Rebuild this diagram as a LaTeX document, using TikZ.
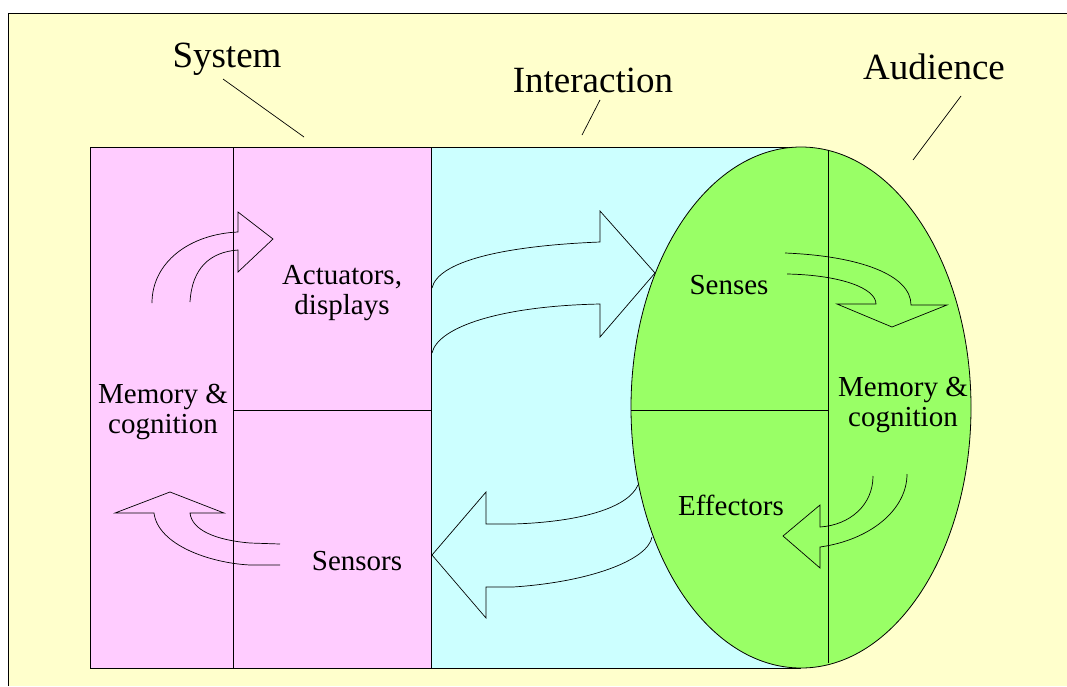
\documentclass[tikz,border=0pt]{standalone}
\usepackage{fontspec}
\setmainfont{Liberation Serif}
\usepackage{tikz}
\definecolor{paper}{HTML}{FFFFCC}
\definecolor{systempink}{HTML}{FFCCFF}
\definecolor{interactioncyan}{HTML}{CCFFFF}
\definecolor{audiencegreen}{HTML}{99FF66}
\tikzset{outline/.style={
    draw=black, line width=0.8pt
  },
  block arrow/.style={
    draw=black, line width=0.7pt, line join=miter
  },
  leader/.style={draw=black, line width=0.7pt},
  big title/.style={
    font=\fontsize{37}{40}\selectfont, anchor=base, inner sep=0pt
  },
  part text/.style={
    font=\fontsize{29}{30}\selectfont, align=center, inner sep=0pt
  }
}

\begin{document}
\begin{tikzpicture}[x=1pt,y=-1pt]
      \useasboundingbox (0,0) rectangle (1067,686);
      \fill[white] (0,0) rectangle (1067,686);
      \fill[paper] (8,13) rectangle (1067,686);
      \draw[outline] (8,686) -- (8,13) -- (1067,13);
      \fill[interactioncyan] (431,147) rectangle (801,668);
      \draw[outline] (431,147) -- (801,147) (431,668) -- (801,668);
      \filldraw[outline, fill=systempink] (90,147) rectangle (431,668);
      \filldraw[outline, fill=audiencegreen] (801,407.5) ellipse [x radius=170, y radius=260.5];
      \draw[outline] (233,147) -- (233,668) (233,410) -- (431,410);
      \draw[outline] (828,150) -- (828,663) (631,410) -- (828,410);
      % titles and their leader lines
      \node[big title] (system) at (227,67) {System};
      \node[big title] (interaction) at (593,92) {Interaction};
      \node[big title] (audience) at (934,79) {Audience};
      \coordinate (system end) at (304,137);
      \coordinate (interaction end) at (582,135);
      \coordinate (audience end) at (913,160);
      \draw[leader] (223,79) -- (system end);
      \draw[leader] (600,100) -- (interaction end);
      \draw[leader] (961,96) -- (audience end);
      % parts
      \node[part text] (sys memory) at (163,412) {Memory \&\\cognition};
      \node[part text] (actuators) at (342,293) {Actuators,\\displays};
      \node[part text, anchor=base] (sensors) at (357,570) {Sensors};
      \node[part text, anchor=base] (senses) at (729,294) {Senses};
      \node[part text, anchor=base] (effectors) at (731,515) {Effectors};
      \node[part text] (aud memory) at (903,405) {Memory \&\\cognition};
      % block arrows
      \draw[block arrow] (190,302) .. controls (192,268) and (210,252) .. (238,250) -- (238,272) -- (273,239) -- (238,212) -- (238,232) .. controls (190,234) and (152,262) .. (152,303);
      \draw[block arrow] (432,288) .. controls (438,262) and (500,246) .. (600,242) -- (600,211) -- (655,273) -- (600,337) -- (600,304) .. controls (500,306) and (438,327) .. (432,353);
      \draw[block arrow] (785,253) .. controls (860,256) and (911,275) .. (911,305) -- (947,305) -- (892,327) -- (837,304) -- (876,304) .. controls (876,288) and (840,275) .. (787,274);
      \draw[block arrow] (873,476) .. controls (873,505) and (850,525) .. (820,527) -- (820,505) -- (783,536) -- (820,568) -- (820,547) .. controls (870,540) and (907,510) .. (907,474);
      \draw[block arrow] (638,485) .. controls (628,508) and (580,522) .. (513,524) -- (486,524) -- (486,492) -- (432,555) -- (486,618) -- (486,587) -- (513,587) .. controls (590,582) and (648,560) .. (652,537);
      \draw[block arrow] (280,544) -- (250,543) .. controls (215,540) and (192,530) .. (190,513) -- (224,513) -- (170,492) -- (115,513) -- (154,513) .. controls (158,545) and (210,563) .. (250,565) -- (280,565);
    \end{tikzpicture}
\end{document}
